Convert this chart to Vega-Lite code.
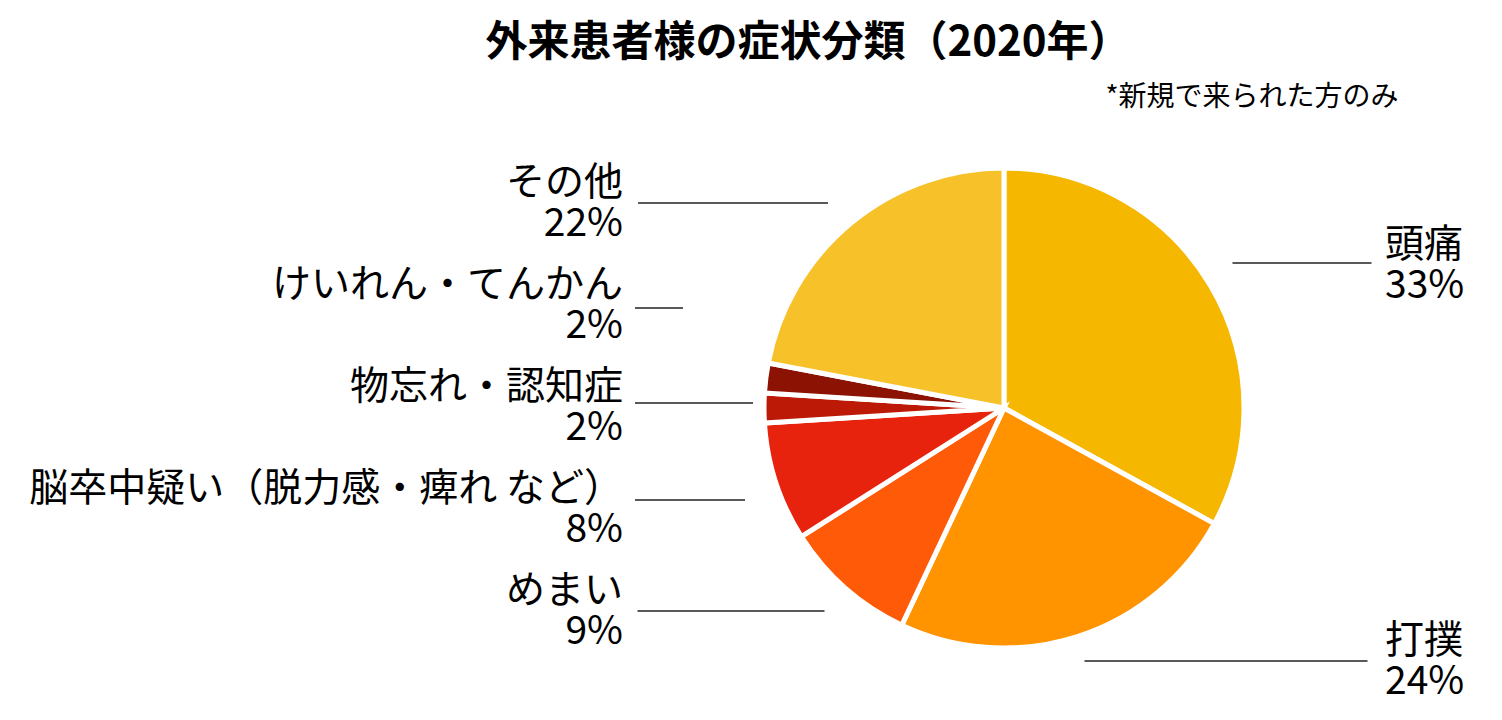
{
  "$schema": "https://vega.github.io/schema/vega-lite/v6.json",
  "width": 992,
  "height": 624,
  "autosize": {"type": "none"},
  "padding": {"left": 508, "top": 96, "right": 2, "bottom": 0},
  "background": "white",
  "config": {"view": {"stroke": null}, "font": "Noto Sans CJK JP"},
  "title": {
    "text": "外来患者様の症状分類（2020年）",
    "font": "Noto Sans CJK JP",
    "fontSize": 42,
    "fontWeight": "bold",
    "color": "#000000",
    "anchor": "middle",
    "frame": "group",
    "dx": -196,
    "offset": 18
  },
  "data": {
    "values": [
      {"cat": "頭痛", "share": 0.33, "ord": 1},
      {"cat": "打撲", "share": 0.24, "ord": 2},
      {"cat": "めまい", "share": 0.09, "ord": 3},
      {"cat": "脳卒中疑い（脱力感・痺れ など）", "share": 0.08, "ord": 4},
      {"cat": "物忘れ・認知症", "share": 0.02, "ord": 5},
      {"cat": "けいれん・てんかん", "share": 0.02, "ord": 6},
      {"cat": "その他", "share": 0.22, "ord": 7}
    ]
  },
  "layer": [
    {
      "mark": {"type": "arc", "outerRadius": 240, "stroke": "white", "strokeWidth": 5},
      "encoding": {
        "theta": {"field": "share", "type": "quantitative", "stack": true},
        "order": {"field": "ord", "type": "quantitative"},
        "color": {
          "field": "cat",
          "type": "nominal",
          "legend": null,
          "scale": {
            "domain": ["頭痛", "打撲", "めまい", "脳卒中疑い（脱力感・痺れ など）", "物忘れ・認知症", "けいれん・てんかん", "その他"],
            "range": ["#F5B700", "#FF9300", "#FF5A08", "#E8230D", "#BC1A06", "#8C1204", "#F7C12A"]
          }
        }
      }
    },
    {
      "transform": [{"filter": {"field": "cat", "oneOf": ["その他", "けいれん・てんかん", "物忘れ・認知症", "脳卒中疑い（脱力感・痺れ など）", "めまい"]}}],
      "encoding": {
        "x": {
          "datum": "left",
          "type": "nominal",
          "scale": {"type": "point", "domain": ["left", "right"], "range": [115, 877], "padding": 0},
          "axis": {"orient": "top", "labels": false, "ticks": false, "domain": false, "grid": false,
            "title": "*新規で来られた方のみ", "titleFont": "Noto Sans CJK JP", "titleFontSize": 28, "titleFontWeight": "normal",
            "titleColor": "#000000", "titleAlign": "right", "titleAnchor": "end", "titleX": 890, "titleY": 1, "titleBaseline": "middle"}
        },
        "y": {
          "field": "cat",
          "type": "nominal",
          "scale": {"type": "point", "domain": ["その他", "けいれん・てんかん", "物忘れ・認知症", "脳卒中疑い（脱力感・痺れ など）", "めまい"], "range": [107, 515], "padding": 0},
          "axis": null
        }
      },
      "layer": [
        {"mark": {"type": "text", "align": "right", "baseline": "middle", "dy": -20, "fontSize": 39, "font": "Noto Sans CJK JP", "color": "#000000"},
         "encoding": {"text": {"field": "cat", "type": "nominal"}}},
        {"mark": {"type": "text", "align": "right", "baseline": "middle", "dy": 21, "fontSize": 39, "font": "Noto Sans CJK JP", "color": "#000000"},
         "encoding": {"text": {"field": "share", "type": "quantitative", "format": ".0%"}}},
        {"transform": [{"filter": {"field": "cat", "equal": "その他"}}],
         "mark": {"type": "tick", "orient": "horizontal", "size": 190, "thickness": 1.3, "xOffset": 110, "color": "#222222", "opacity": 1}},
        {"transform": [{"filter": {"field": "cat", "equal": "けいれん・てんかん"}}],
         "mark": {"type": "tick", "orient": "horizontal", "size": 48, "thickness": 1.3, "xOffset": 36, "yOffset": 3, "color": "#222222", "opacity": 1}},
        {"transform": [{"filter": {"field": "cat", "equal": "物忘れ・認知症"}}],
         "mark": {"type": "tick", "orient": "horizontal", "size": 118, "thickness": 1.3, "xOffset": 71, "yOffset": -4, "color": "#222222", "opacity": 1}},
        {"transform": [{"filter": {"field": "cat", "equal": "脳卒中疑い（脱力感・痺れ など）"}}],
         "mark": {"type": "tick", "orient": "horizontal", "size": 110, "thickness": 1.3, "xOffset": 67, "yOffset": -9, "color": "#222222", "opacity": 1}},
        {"transform": [{"filter": {"field": "cat", "equal": "めまい"}}],
         "mark": {"type": "tick", "orient": "horizontal", "size": 187, "thickness": 1.3, "xOffset": 108, "color": "#222222", "opacity": 1}}
      ]
    },
    {
      "transform": [{"filter": {"field": "cat", "oneOf": ["頭痛", "打撲"]}}],
      "encoding": {
        "x": {
          "datum": "right",
          "type": "nominal",
          "scale": {"type": "point", "domain": ["left", "right"], "range": [115, 877], "padding": 0},
          "axis": {"orient": "top", "labels": false, "ticks": false, "domain": false, "grid": false,
            "title": "*新規で来られた方のみ", "titleFont": "Noto Sans CJK JP", "titleFontSize": 28, "titleFontWeight": "normal",
            "titleColor": "#000000", "titleAlign": "right", "titleAnchor": "end", "titleX": 890, "titleY": 1, "titleBaseline": "middle"}
        },
        "y": {
          "field": "cat",
          "type": "nominal",
          "scale": {"type": "point", "domain": ["頭痛", "打撲"], "range": [169, 565], "padding": 0},
          "axis": null
        }
      },
      "layer": [
        {"mark": {"type": "text", "align": "left", "baseline": "middle", "dy": -20, "fontSize": 39, "font": "Noto Sans CJK JP", "color": "#000000"},
         "encoding": {"text": {"field": "cat", "type": "nominal"}}},
        {"mark": {"type": "text", "align": "left", "baseline": "middle", "dy": 21, "fontSize": 39, "font": "Noto Sans CJK JP", "color": "#000000"},
         "encoding": {"text": {"field": "share", "type": "quantitative", "format": ".0%"}}},
        {"transform": [{"filter": {"field": "cat", "equal": "頭痛"}}],
         "mark": {"type": "tick", "orient": "horizontal", "size": 139, "thickness": 1.3, "xOffset": -83, "yOffset": -2, "color": "#222222", "opacity": 1}},
        {"transform": [{"filter": {"field": "cat", "equal": "打撲"}}],
         "mark": {"type": "tick", "orient": "horizontal", "size": 283, "thickness": 1.3, "xOffset": -159, "color": "#222222", "opacity": 1}}
      ]
    }
  ],
  "resolve": {"scale": {"y": "independent"}}
}
